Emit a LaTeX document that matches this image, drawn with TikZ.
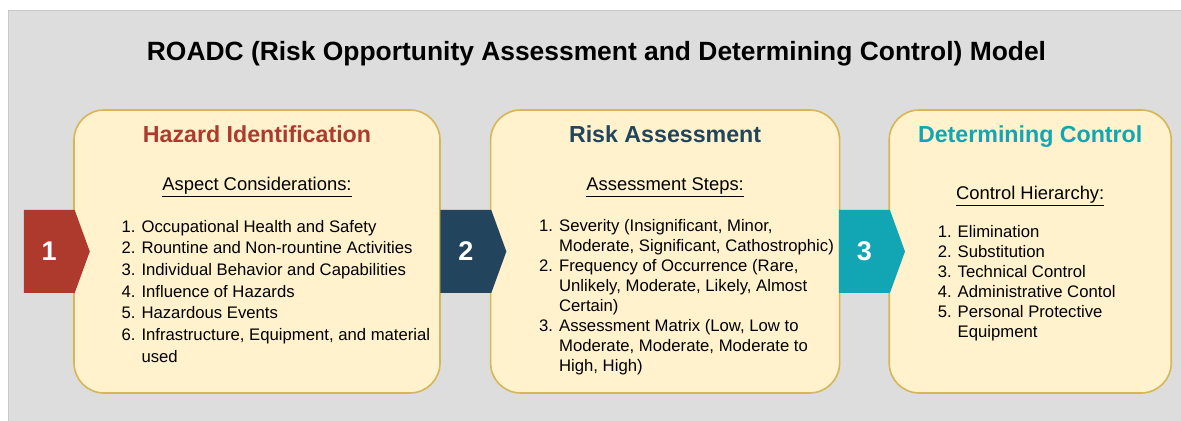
\documentclass[tikz,border=0pt]{standalone}
\usepackage{fontspec}
\setmainfont{Liberation Sans}
\usepackage{xcolor}
\usepackage{tikz}
\usetikzlibrary{positioning}
\usetikzlibrary{shapes.symbols}

\definecolor{bggray}{HTML}{DDDDDD}
\definecolor{bgline}{HTML}{C8C8C8}
\definecolor{notefill}{HTML}{FFF2CC}
\definecolor{noteline}{HTML}{D6B656}
\definecolor{hazardred}{HTML}{AE3A2E}
\definecolor{risknavy}{HTML}{23445D}
\definecolor{controlteal}{HTML}{12A6B4}

\tikzset{
    phase/.style={draw=noteline, fill=notefill, line width=0.8pt, rounded corners=15pt, minimum height=141.5pt},
    chevron/.style={shape=signal, signal to=east, signal pointer angle=140, fill=#1, text=white, font=\bfseries\fontsize{13.5}{16}\selectfont, minimum height=41.5pt, minimum width=33pt, inner sep=0pt},
    heading/.style={anchor=base, text=#1, font=\bfseries\fontsize{11.6}{13}\selectfont},
    subhead/.style={anchor=base, font=\fontsize{9.2}{11}\selectfont},
    items/.style={anchor=base west, inner sep=0pt, font=\fontsize{8.35}{#1}\selectfont}
}

\begin{document}
\begin{tikzpicture}[x=0.5pt, y=-0.5pt, node distance=24.5pt]

\useasboundingbox (0,0) rectangle (1181,421);
\fill [bggray] (8,10) rectangle (1181,421);
\draw [bgline] (8,421) -- (8,10) -- (1181,10);

\node [anchor=base, font=\bfseries\fontsize{13.2}{16}\selectfont] (title) at (596.5,61)
    {ROADC (Risk Opportunity Assessment and Determining Control) Model};

\node [phase, minimum width=183pt]                  (hazard)  at (257,251.5) {};
\node [phase, minimum width=174.5pt, right=of hazard] (risk)    {};
\node [phase, minimum width=141pt, right=24pt of risk] (control) {};

\node [heading=hazardred]   (hazardhead)  at ([yshift=-16.5pt]hazard.north)  {Hazard Identification};
\node [heading=risknavy]    (riskhead)    at ([yshift=-16.5pt]risk.north)    {Risk Assessment};
\node [heading=controlteal] (controlhead) at ([yshift=-16.5pt]control.north) {Determining Control};

\node [subhead] (hazardsub)  at ([yshift=-40.5pt]hazard.north)  {\underline{Aspect Considerations:}};
\node [subhead] (risksub)    at ([yshift=-40.5pt]risk.north)    {\underline{Assessment Steps:}};
\node [subhead] (controlsub) at ([yshift=-45pt]control.north)   {\underline{Control Hierarchy:}};

\node [items=10.85pt] (hazardlist) at ([shift={(24pt,-61.5pt)}]hazard.north west) {%
\begin{tabular}[t]{@{}r@{\hspace{3pt}}l@{}}
1. & Occupational Health and Safety\\
2. & Rountine and Non-rountine Activities\\
3. & Individual Behavior and Capabilities\\
4. & Influence of Hazards\\
5. & Hazardous Events\\
6. & Infrastructure, Equipment, and material\\
   & used
\end{tabular}};

\node [items=10pt] (risklist) at ([shift={(24.5pt,-61pt)}]risk.north west) {%
\begin{tabular}[t]{@{}r@{\hspace{3pt}}l@{}}
1. & Severity (Insignificant, Minor,\\
   & Moderate, Significant, Cathostrophic)\\
2. & Frequency of Occurrence (Rare,\\
   & Unlikely, Moderate, Likely, Almost\\
   & Certain)\\
3. & Assessment Matrix (Low, Low to\\
   & Moderate, Moderate, Moderate to\\
   & High, High)
\end{tabular}};

\node [items=10pt] (controllist) at ([shift={(24.5pt,-64pt)}]control.north west) {%
\begin{tabular}[t]{@{}r@{\hspace{3pt}}l@{}}
1. & Elimination\\
2. & Substitution\\
3. & Technical Control\\
4. & Administrative Contol\\
5. & Personal Protective\\
   & Equipment
\end{tabular}};

\node [chevron=hazardred,   anchor=east] (one)   at ([xshift=8.5pt]hazard.west)  {1};
\node [chevron=risknavy,    anchor=east] (two)   at ([xshift=8.5pt]risk.west)    {2};
\node [chevron=controlteal, anchor=east] (three) at ([xshift=8.5pt]control.west) {3};

\end{tikzpicture}
\end{document}
